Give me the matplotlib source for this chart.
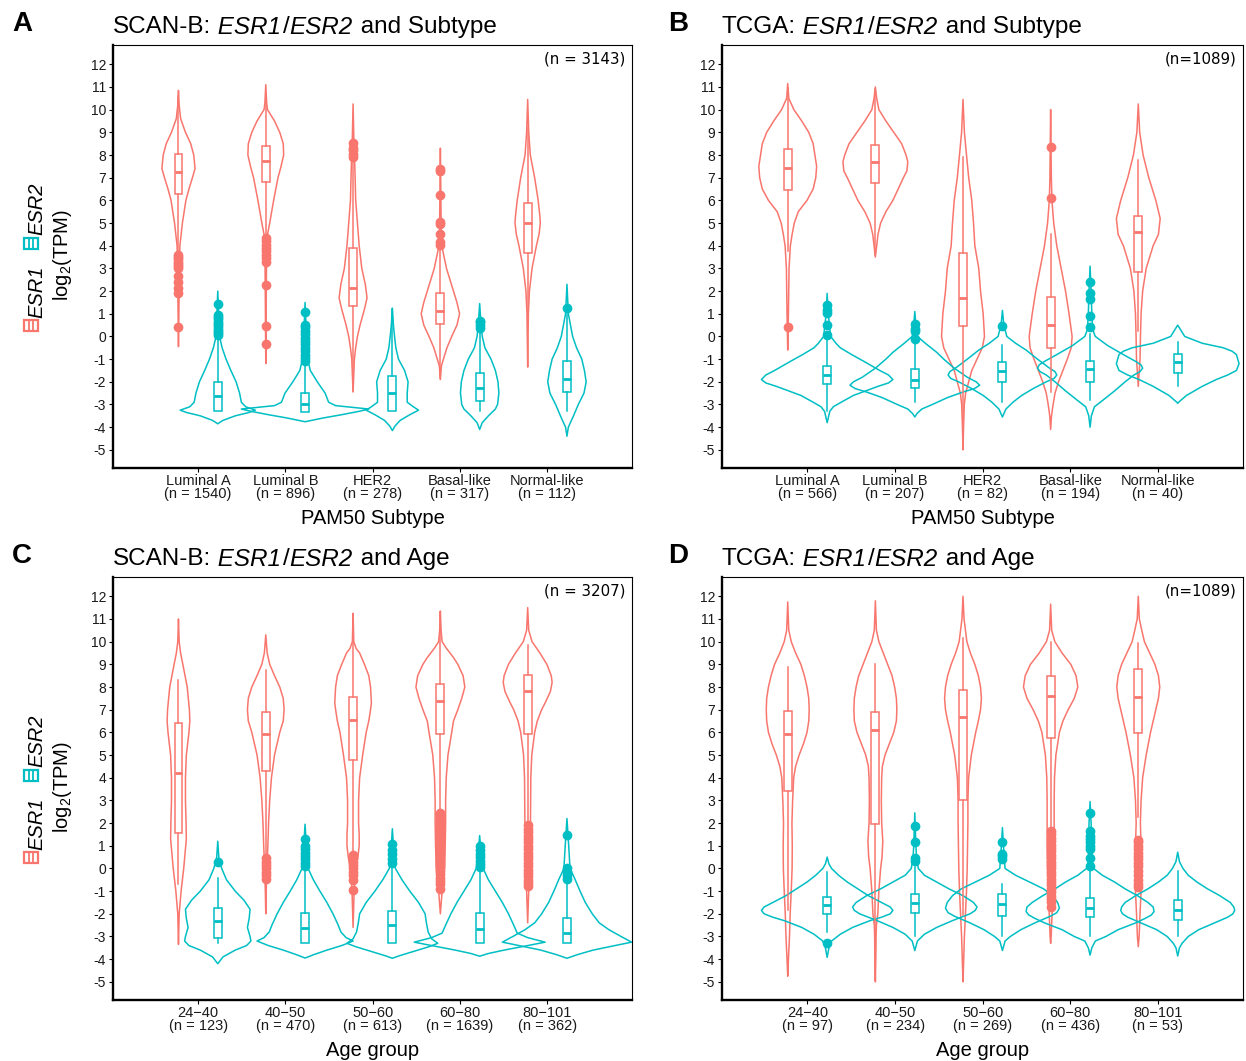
import matplotlib
matplotlib.use("Agg")
import matplotlib.pyplot as plt
from matplotlib.patches import Rectangle

plt.rcParams['font.family'] = ['Liberation Sans', 'DejaVu Sans']
plt.rcParams['mathtext.fontset'] = 'custom'
plt.rcParams['mathtext.rm'] = 'Liberation Sans'
plt.rcParams['mathtext.it'] = 'Liberation Sans:italic'
plt.rcParams['axes.unicode_minus'] = False

ESR1_COLOR = '#F8766D'
ESR2_COLOR = '#00BFC4'

# ---------------- data ----------------
# violins: list of (log2 TPM, half width) knots
# boxes: (whisker low, q1, median, q3, whisker high)

A_GROUPS = ["Luminal A", "Luminal B", "HER2", "Basal-like", "Normal-like"]
A_COUNTS = [1540, 896, 278, 317, 112]
A_TOTAL = "(n = 3143)"
A_ESR1_VIOLINS = [
    [(10.85, 0), (10.2, 0.008), (9.6, 0.025), (9.0, 0.08), (8.5, 0.14), (8.0, 0.175), (7.4, 0.19), (7.0, 0.16), (6.5, 0.12), (6.0, 0.085), (5.0, 0.045), (4.0, 0.016), (3.0, 0.01), (1.5, 0.006), (-0.45, 0)],
    [(11.1, 0), (10.3, 0.01), (10.0, 0.02), (9.5, 0.1), (9.0, 0.16), (8.5, 0.2), (8.0, 0.205), (7.5, 0.175), (7.0, 0.14), (6.0, 0.09), (5.0, 0.045), (4.5, 0.02), (4.0, 0.01), (2.0, 0.006), (-1.2, 0)],
    [(10.25, 0), (8.5, 0.01), (7.5, 0.02), (6.0, 0.03), (5.0, 0.05), (4.0, 0.07), (3.0, 0.1), (2.3, 0.14), (1.7, 0.16), (1.2, 0.13), (0.5, 0.08), (0.0, 0.05), (-0.5, 0.03), (-1.0, 0.015), (-2.45, 0)],
    [(8.3, 0), (6.0, 0.006), (4.5, 0.01), (4.0, 0.016), (3.0, 0.07), (2.5, 0.11), (2.0, 0.15), (1.5, 0.19), (1.0, 0.22), (0.5, 0.19), (0.0, 0.13), (-0.5, 0.075), (-1.0, 0.035), (-1.3, 0.012), (-1.9, 0)],
    [(10.45, 0), (9.0, 0.012), (8.0, 0.03), (7.0, 0.08), (6.0, 0.12), (5.3, 0.14), (5.0, 0.145), (4.5, 0.13), (4.0, 0.1), (3.0, 0.05), (2.0, 0.02), (1.0, 0.008), (-1.35, 0)],
]
A_ESR2_VIOLINS = [
    [(2.0, 0), (1.0, 0.01), (0.0, 0.02), (-0.5, 0.05), (-1.0, 0.095), (-1.5, 0.15), (-2.0, 0.21), (-2.5, 0.25), (-2.9, 0.27), (-3.1, 0.32), (-3.25, 0.43), (-3.35, 0.36), (-3.5, 0.2), (-3.7, 0.06), (-3.85, 0)],
    [(1.5, 0), (0.5, 0.01), (-0.5, 0.02), (-1.0, 0.03), (-1.5, 0.06), (-2.0, 0.14), (-2.5, 0.23), (-2.9, 0.27), (-3.05, 0.35), (-3.2, 0.73), (-3.3, 0.62), (-3.45, 0.42), (-3.6, 0.2), (-3.76, 0)],
    [(1.25, 0), (0.5, 0.012), (0.0, 0.025), (-0.5, 0.04), (-1.0, 0.07), (-1.5, 0.14), (-2.0, 0.18), (-2.5, 0.17), (-2.9, 0.17), (-3.1, 0.24), (-3.25, 0.3), (-3.45, 0.2), (-3.7, 0.09), (-3.95, 0.03), (-4.15, 0)],
    [(1.45, 0), (0.5, 0.016), (0.0, 0.03), (-0.5, 0.06), (-1.0, 0.13), (-1.5, 0.18), (-2.0, 0.21), (-2.5, 0.22), (-3.0, 0.205), (-3.2, 0.18), (-3.5, 0.1), (-3.8, 0.03), (-4.1, 0)],
    [(2.3, 0), (1.0, 0.016), (0.0, 0.065), (-0.5, 0.11), (-1.0, 0.17), (-1.5, 0.2), (-2.0, 0.22), (-2.5, 0.195), (-3.0, 0.13), (-3.5, 0.075), (-4.0, 0.016), (-4.4, 0)],
]
A_ESR1_BOX = [(3.7, 6.27, 7.25, 8.04, 10.6), (4.45, 6.82, 7.74, 8.39, 10.7), (-2.4, 1.35, 2.12, 3.92, 7.77),
              (-1.85, 0.55, 1.13, 1.9, 3.9), (0.4, 3.7, 5.0, 5.9, 9.2)]
A_ESR2_BOX = [(-3.3, -3.3, -2.63, -1.99, -0.05), (-3.32, -3.32, -3.0, -2.48, -1.22), (-3.3, -3.3, -2.48, -1.74, 1.2),
              (-3.3, -2.85, -2.26, -1.6, 0.3), (-3.3, -2.43, -1.89, -1.07, 1.0)]
A_ESR1_OUT = [[3.6, 3.5, 3.4, 3.3, 3.2, 3.1, 3.0, 2.65, 2.4, 2.15, 1.9, 0.43],
              [4.35, 4.2, 4.05, 3.9, 3.75, 3.6, 3.45, 3.3, 2.25, 0.47, -0.35],
              [7.9, 8.05, 8.2, 8.3, 8.55],
              [4.05, 4.15, 4.5, 4.95, 5.05, 6.25, 7.3, 7.4],
              []]
A_ESR2_OUT = [[0.05, 0.15, 0.25, 0.35, 0.45, 0.55, 0.65, 0.75, 0.85, 0.95, 1.45],
              [-1.1, -0.95, -0.8, -0.65, -0.5, -0.35, -0.2, -0.05, 0.1, 0.25, 0.4, 0.5, 1.07],
              [],
              [0.38, 0.5, 0.62, 0.7],
              [1.25]]

B_GROUPS = A_GROUPS
B_COUNTS = [566, 207, 82, 194, 40]
B_TOTAL = "(n=1089)"
B_ESR1_VIOLINS = [
    [(11.15, 0), (10.5, 0.012), (10.0, 0.07), (9.5, 0.16), (9.0, 0.24), (8.5, 0.29), (8.0, 0.31), (7.5, 0.33), (7.0, 0.32), (6.5, 0.29), (6.0, 0.22), (5.5, 0.12), (5.0, 0.075), (4.5, 0.05), (4.0, 0.03), (3.0, 0.015), (1.0, 0.008), (-0.6, 0)],
    [(11.0, 0), (10.5, 0.015), (10.0, 0.04), (9.5, 0.12), (9.0, 0.21), (8.5, 0.3), (8.0, 0.35), (7.7, 0.37), (7.3, 0.36), (7.0, 0.32), (6.5, 0.26), (6.0, 0.2), (5.5, 0.12), (5.0, 0.06), (4.5, 0.03), (4.0, 0.015), (3.5, 0)],
    [(10.45, 0), (9.0, 0.016), (8.0, 0.04), (7.0, 0.065), (6.0, 0.1), (5.0, 0.12), (4.0, 0.135), (3.0, 0.18), (2.0, 0.2), (1.0, 0.23), (0.0, 0.245), (-0.5, 0.22), (-1.0, 0.16), (-1.5, 0.1), (-2.0, 0.065), (-2.5, 0.03), (-3.0, 0.015), (-4.0, 0.006), (-5.0, 0)],
    [(10.0, 0), (7.0, 0.008), (6.0, 0.015), (5.0, 0.035), (4.0, 0.07), (3.0, 0.12), (2.0, 0.17), (1.0, 0.21), (0.0, 0.245), (-0.5, 0.235), (-1.0, 0.19), (-1.5, 0.14), (-2.0, 0.09), (-2.5, 0.05), (-3.0, 0.028), (-3.5, 0.01), (-4.1, 0)],
    [(10.25, 0), (9.0, 0.016), (8.0, 0.055), (7.0, 0.12), (6.0, 0.2), (5.2, 0.25), (4.5, 0.23), (4.0, 0.17), (3.0, 0.09), (2.0, 0.05), (1.0, 0.032), (0.0, 0.025), (-1.0, 0.02), (-2.2, 0)],
]
B_ESR2_VIOLINS = [
    [(1.9, 0), (1.0, 0.012), (0.0, 0.04), (-0.3, 0.1), (-0.5, 0.15), (-0.8, 0.28), (-1.1, 0.42), (-1.5, 0.6), (-1.7, 0.7), (-1.9, 0.75), (-2.05, 0.7), (-2.2, 0.58), (-2.4, 0.44), (-2.6, 0.3), (-2.9, 0.16), (-3.1, 0.07), (-3.3, 0.03), (-3.8, 0)],
    [(1.1, 0), (0.5, 0.012), (0.0, 0.03), (-0.3, 0.12), (-0.7, 0.25), (-1.0, 0.33), (-1.4, 0.45), (-1.8, 0.6), (-2.0, 0.7), (-2.15, 0.74), (-2.3, 0.68), (-2.45, 0.55), (-2.7, 0.37), (-3.0, 0.2), (-3.2, 0.08), (-3.4, 0.025), (-3.55, 0)],
    [(1.15, 0), (0.5, 0.016), (0.0, 0.05), (-0.3, 0.15), (-0.6, 0.27), (-1.0, 0.4), (-1.35, 0.52), (-1.55, 0.6), (-1.7, 0.62), (-1.85, 0.59), (-2.0, 0.5), (-2.3, 0.35), (-2.6, 0.22), (-2.9, 0.12), (-3.2, 0.04), (-3.55, 0)],
    [(3.1, 0), (2.0, 0.012), (1.0, 0.02), (0.3, 0.03), (0.0, 0.06), (-0.4, 0.2), (-0.8, 0.38), (-1.1, 0.52), (-1.25, 0.58), (-1.4, 0.6), (-1.55, 0.57), (-1.7, 0.5), (-2.0, 0.4), (-2.4, 0.28), (-2.8, 0.15), (-3.1, 0.05), (-3.5, 0.015), (-4.0, 0)],
    [(0.5, 0), (0.0, 0.08), (-0.3, 0.28), (-0.5, 0.52), (-0.65, 0.62), (-0.8, 0.67), (-1.2, 0.7), (-1.5, 0.67), (-1.7, 0.57), (-1.9, 0.44), (-2.2, 0.28), (-2.6, 0.1), (-2.9, 0.01), (-2.95, 0)],
]
B_ESR1_BOX = [(3.75, 6.46, 7.42, 8.27, 10.97), (3.6, 6.77, 7.68, 8.45, 10.9), (-4.3, 0.46, 1.71, 3.66, 7.89),
              (-2.43, -0.53, 0.52, 1.75, 4.51), (0.25, 2.82, 4.6, 5.32, 7.8)]
B_ESR2_BOX = [(-3.3, -2.1, -1.72, -1.3, 0.0), (-2.9, -2.26, -1.92, -1.45, -0.3), (-2.87, -2.0, -1.52, -1.11, -0.38),
              (-2.8, -2.0, -1.45, -1.08, 0.13), (-2.2, -1.63, -1.14, -0.78, -0.23)]
B_ESR1_OUT = [[0.4], [], [], [6.1, 8.37], []]
B_ESR2_OUT = [[0.08, 0.5, 1.05, 1.15, 1.4], [-0.13, 0.25, 0.33, 0.56], [0.45],
              [0.42, 0.9, 1.65, 1.9, 2.4], []]

C_GROUPS = ["24\u221240", "40\u221250", "50\u221260", "60\u221280", "80\u2212101"]
C_COUNTS = [123, 470, 613, 1639, 362]
C_TOTAL = "(n = 3207)"
C_ESR1_VIOLINS = [
    [(11.0, 0), (10.0, 0.008), (9.5, 0.024), (9.0, 0.05), (8.0, 0.1), (7.0, 0.125), (6.5, 0.13), (6.0, 0.12), (5.0, 0.09), (4.0, 0.08), (3.0, 0.08), (2.0, 0.087), (1.3, 0.09), (1.0, 0.083), (0.0, 0.06), (-1.0, 0.03), (-2.0, 0.008), (-3.35, 0)],
    [(10.3, 0), (9.5, 0.016), (9.0, 0.045), (8.5, 0.1), (8.0, 0.16), (7.5, 0.2), (7.0, 0.21), (6.5, 0.2), (6.0, 0.16), (5.0, 0.1), (4.0, 0.065), (3.0, 0.045), (2.0, 0.032), (1.0, 0.024), (0.0, 0.012), (-1.0, 0.005), (-2.0, 0)],
    [(11.25, 0), (10.0, 0.008), (9.7, 0.035), (9.5, 0.075), (9.0, 0.13), (8.5, 0.18), (8.0, 0.2), (7.3, 0.21), (7.0, 0.2), (6.5, 0.18), (6.0, 0.15), (5.0, 0.11), (4.0, 0.075), (3.0, 0.063), (2.0, 0.063), (1.5, 0.07), (1.0, 0.07), (0.5, 0.055), (0.0, 0.032), (-1.0, 0.012), (-2.6, 0)],
    [(11.35, 0), (10.5, 0.008), (10.0, 0.02), (9.7, 0.07), (9.3, 0.15), (9.0, 0.2), (8.5, 0.26), (8.0, 0.28), (7.5, 0.245), (7.0, 0.2), (6.5, 0.15), (6.0, 0.13), (5.0, 0.087), (4.0, 0.067), (3.0, 0.06), (2.0, 0.06), (1.0, 0.055), (0.0, 0.048), (-0.5, 0.035), (-1.0, 0.02), (-2.0, 0)],
    [(11.5, 0), (10.5, 0.012), (10.0, 0.05), (9.5, 0.14), (9.0, 0.22), (8.5, 0.27), (8.2, 0.28), (7.8, 0.26), (7.3, 0.2), (7.0, 0.16), (6.5, 0.11), (6.0, 0.08), (5.0, 0.047), (4.0, 0.036), (2.0, 0.032), (1.0, 0.032), (0.0, 0.024), (-1.0, 0.012), (-2.4, 0)],
]
C_ESR2_VIOLINS = [
    [(1.2, 0), (0.5, 0.012), (0.0, 0.045), (-0.5, 0.1), (-1.0, 0.2), (-1.4, 0.3), (-1.8, 0.37), (-2.2, 0.36), (-2.6, 0.34), (-3.0, 0.37), (-3.2, 0.38), (-3.4, 0.33), (-3.6, 0.2), (-3.9, 0.06), (-4.2, 0)],
    [(1.95, 0), (1.0, 0.015), (0.0, 0.035), (-0.5, 0.095), (-1.0, 0.17), (-1.5, 0.25), (-2.0, 0.32), (-2.5, 0.38), (-2.8, 0.41), (-3.05, 0.47), (-3.2, 0.55), (-3.4, 0.42), (-3.6, 0.25), (-3.8, 0.1), (-3.95, 0)],
    [(1.75, 0), (1.0, 0.012), (0.0, 0.035), (-0.5, 0.11), (-1.0, 0.2), (-1.5, 0.3), (-2.0, 0.375), (-2.4, 0.39), (-2.8, 0.41), (-3.1, 0.45), (-3.3, 0.52), (-3.45, 0.42), (-3.65, 0.25), (-3.85, 0.08), (-3.96, 0)],
    [(1.45, 0), (0.5, 0.02), (0.0, 0.04), (-0.5, 0.1), (-1.0, 0.18), (-1.5, 0.26), (-2.0, 0.33), (-2.5, 0.39), (-2.85, 0.43), (-3.05, 0.55), (-3.25, 0.75), (-3.4, 0.55), (-3.6, 0.28), (-3.75, 0.1), (-3.87, 0)],
    [(2.2, 0), (1.0, 0.02), (0.0, 0.035), (-0.5, 0.095), (-1.0, 0.15), (-1.5, 0.21), (-2.0, 0.29), (-2.4, 0.37), (-2.7, 0.48), (-3.0, 0.62), (-3.25, 0.74), (-3.4, 0.55), (-3.6, 0.3), (-3.8, 0.12), (-3.96, 0)],
]
C_ESR1_BOX = [(-0.69, 1.55, 4.22, 6.43, 8.33), (0.51, 4.3, 5.94, 6.89, 8.74), (0.66, 4.78, 6.55, 7.57, 11.2),
              (2.55, 5.91, 7.37, 8.15, 11.3), (1.95, 5.92, 7.81, 8.55, 9.87)]
C_ESR2_BOX = [(-3.27, -3.05, -2.3, -1.76, -0.41), (-3.27, -3.27, -2.64, -1.95, 0.0), (-3.3, -3.3, -2.51, -1.88, 0.15),
              (-3.3, -3.3, -2.68, -1.97, 0.0), (-3.3, -3.3, -2.83, -2.17, -0.55)]
C_ESR1_OUT = [[],
              [0.45, 0.3, 0.15, 0.0, -0.15, -0.3, -0.45],
              [0.6, 0.45, 0.3, 0.15, 0.0, -0.15, -0.3, -0.5, -0.95],
              [2.45, 2.3, 2.15, 2.0, 1.85, 1.7, 1.55, 1.4, 1.25, 1.1, 0.95, 0.8, 0.65, 0.5, 0.35, 0.2, 0.05,
               -0.1, -0.25, -0.4, -0.55, -0.7, -0.9],
              [1.9, 1.75, 1.6, 1.45, 1.3, 1.15, 1.0, 0.85, 0.7, 0.55, 0.4, 0.25, 0.1, -0.05, -0.2, -0.35, -0.5,
               -0.65, -0.77]]
C_ESR2_OUT = [[0.29],
              [0.1, 0.25, 0.4, 0.55, 0.7, 0.85, 1.0, 1.28],
              [0.25, 0.4, 0.65, 0.8, 1.07],
              [0.05, 0.2, 0.35, 0.5, 0.65, 0.8, 0.97],
              [-0.45, -0.3, -0.15, 0.0, 1.47]]

D_GROUPS = C_GROUPS
D_COUNTS = [97, 234, 269, 436, 53]
D_TOTAL = "(n=1089)"
D_ESR1_VIOLINS = [
    [(11.75, 0), (10.5, 0.012), (10.0, 0.04), (9.5, 0.09), (9.0, 0.15), (8.5, 0.19), (8.0, 0.22), (7.5, 0.24), (7.0, 0.245), (6.5, 0.24), (6.0, 0.22), (5.5, 0.18), (5.0, 0.13), (4.5, 0.09), (4.0, 0.068), (3.0, 0.056), (2.0, 0.048), (1.0, 0.052), (0.0, 0.05), (-1.0, 0.04), (-2.0, 0.028), (-3.0, 0.02), (-4.0, 0.008), (-4.75, 0)],
    [(11.8, 0), (10.5, 0.012), (10.0, 0.04), (9.5, 0.09), (9.0, 0.14), (8.5, 0.19), (8.0, 0.22), (7.5, 0.24), (7.0, 0.245), (6.5, 0.24), (6.0, 0.21), (5.5, 0.16), (5.0, 0.11), (4.5, 0.08), (4.0, 0.072), (3.0, 0.068), (2.0, 0.072), (1.2, 0.085), (0.5, 0.076), (0.0, 0.06), (-1.0, 0.04), (-2.0, 0.028), (-2.5, 0.012), (-3.0, 0.008), (-4.0, 0.005), (-5.0, 0)],
    [(12.0, 0), (11.0, 0.012), (10.0, 0.044), (9.5, 0.084), (9.0, 0.135), (8.5, 0.175), (8.0, 0.2), (7.5, 0.21), (7.0, 0.2), (6.5, 0.175), (6.0, 0.145), (5.0, 0.095), (4.0, 0.064), (3.0, 0.056), (2.0, 0.056), (1.0, 0.052), (0.0, 0.048), (-1.0, 0.04), (-2.0, 0.028), (-3.0, 0.016), (-4.0, 0.008), (-5.0, 0)],
    [(11.65, 0), (10.5, 0.012), (10.0, 0.048), (9.5, 0.13), (9.0, 0.23), (8.5, 0.29), (8.0, 0.31), (7.5, 0.27), (7.0, 0.2), (6.5, 0.14), (6.0, 0.1), (5.0, 0.06), (4.0, 0.044), (3.0, 0.04), (2.0, 0.04), (1.0, 0.04), (0.0, 0.036), (-1.0, 0.028), (-2.0, 0.016), (-3.0, 0.006), (-3.3, 0)],
    [(12.0, 0), (11.0, 0.012), (10.5, 0.04), (10.0, 0.07), (9.5, 0.13), (9.0, 0.19), (8.5, 0.23), (8.0, 0.245), (7.5, 0.23), (7.0, 0.2), (6.5, 0.17), (6.0, 0.14), (5.0, 0.09), (4.0, 0.05), (3.0, 0.032), (2.0, 0.024), (1.0, 0.032), (0.0, 0.04), (-1.0, 0.032), (-2.0, 0.02), (-3.0, 0.01), (-3.45, 0)],
]
D_ESR2_VIOLINS = [
    [(0.5, 0), (0.2, 0.02), (0.0, 0.05), (-0.3, 0.13), (-0.6, 0.23), (-0.9, 0.35), (-1.2, 0.47), (-1.5, 0.62), (-1.7, 0.72), (-1.85, 0.75), (-2.0, 0.72), (-2.15, 0.62), (-2.3, 0.49), (-2.6, 0.29), (-2.9, 0.15), (-3.2, 0.05), (-3.5, 0.02), (-3.92, 0)],
    [(2.45, 0), (1.0, 0.012), (0.5, 0.02), (0.0, 0.04), (-0.3, 0.11), (-0.6, 0.25), (-0.9, 0.39), (-1.2, 0.55), (-1.5, 0.67), (-1.7, 0.71), (-1.85, 0.69), (-2.0, 0.63), (-2.3, 0.43), (-2.6, 0.25), (-2.9, 0.11), (-3.2, 0.03), (-3.62, 0)],
    [(1.8, 0), (1.0, 0.012), (0.0, 0.03), (-0.3, 0.15), (-0.6, 0.31), (-0.9, 0.47), (-1.2, 0.57), (-1.5, 0.63), (-1.75, 0.65), (-1.95, 0.62), (-2.1, 0.55), (-2.4, 0.37), (-2.7, 0.21), (-3.0, 0.09), (-3.2, 0.03), (-3.62, 0)],
    [(2.95, 0), (2.0, 0.012), (1.0, 0.016), (0.3, 0.02), (0.0, 0.04), (-0.3, 0.14), (-0.6, 0.28), (-0.9, 0.4), (-1.2, 0.54), (-1.5, 0.66), (-1.7, 0.72), (-1.9, 0.73), (-2.05, 0.7), (-2.2, 0.63), (-2.4, 0.52), (-2.7, 0.32), (-3.0, 0.18), (-3.2, 0.06), (-3.5, 0.02), (-3.82, 0)],
    [(0.72, 0), (0.3, 0.02), (0.0, 0.06), (-0.3, 0.12), (-0.6, 0.22), (-0.9, 0.34), (-1.2, 0.48), (-1.5, 0.6), (-1.7, 0.64), (-1.85, 0.65), (-2.0, 0.63), (-2.15, 0.57), (-2.4, 0.42), (-2.7, 0.24), (-3.0, 0.12), (-3.3, 0.05), (-3.5, 0.02), (-3.86, 0)],
]
D_ESR1_BOX = [(-1.83, 3.42, 5.92, 6.93, 8.89), (-4.9, 1.96, 6.1, 6.88, 9.0), (-2.05, 3.01, 6.68, 7.86, 10.18),
              (1.7, 5.77, 7.6, 8.48, 10.0), (2.25, 5.95, 7.54, 8.78, 9.96)]
D_ESR2_BOX = [(-2.8, -2.0, -1.61, -1.24, -0.16), (-3.0, -1.97, -1.54, -1.14, 0.06), (-2.98, -2.1, -1.58, -1.14, -0.69),
              (-2.98, -2.16, -1.76, -1.29, 0.0), (-3.0, -2.27, -1.83, -1.39, -0.11)]
D_ESR1_OUT = [[], [], [],
              [1.65, 1.5, 1.35, 1.2, 1.05, 0.9, 0.75, 0.6, 0.45, 0.3, 0.15, 0.0, -0.15, -0.3, -0.45, -0.6, -0.75,
               -0.9, -1.05, -1.2, -1.35, -1.5, -1.69],
              [1.25, 1.15, 1.0, 0.85, 0.7, 0.55, 0.4, 0.25, 0.1, -0.1, -0.3, -0.5, -0.7, -0.8]]
D_ESR2_OUT = [[-3.3], [0.35, 0.47, 1.18, 1.88], [0.4, 0.55, 0.65, 1.15],
              [0.1, 0.45, 0.85, 1.0, 1.15, 1.3, 1.45, 1.65, 2.45], []]

# ---------------- layout (pixels of the 1246x1061 picture) ----------------
W, H = 1246, 1061
DODGE = 0.225
BOX_W = 0.09


def px_axes(fig, left, top, right, bottom):
    return fig.add_axes([left / W, 1 - bottom / H, (right - left) / W, (bottom - top) / H])


def draw_gene(ax, violins, boxes, outliers, offset, color):
    pos = [i + 1 + offset for i in range(len(violins))]
    stats, widths = [], []
    for knots in violins:
        ys = [k[0] for k in knots]
        ws = [k[1] for k in knots]
        stats.append(dict(coords=ys, vals=ws, mean=0, median=0, min=min(ys), max=max(ys)))
        widths.append(2 * max(ws))
    parts = ax.violin(stats, positions=pos, widths=widths, showmeans=False,
                      showextrema=False, showmedians=False)
    for b in parts['bodies']:
        b.set_facecolor('none')
        b.set_edgecolor(color)
        b.set_linewidth(1.1)
        b.set_alpha(1)
        b.set_zorder(2)
    return pos, [dict(whislo=b[0], q1=b[1], med=b[2], q3=b[3], whishi=b[4], fliers=o)
                 for b, o in zip(boxes, outliers)]


def draw_boxes(ax, pos, bstats, color):
    ax.bxp(bstats, positions=pos, widths=BOX_W, patch_artist=True, showcaps=False,
           manage_ticks=False, zorder=3,
           boxprops=dict(facecolor='white', edgecolor=color, linewidth=1.1),
           whiskerprops=dict(color=color, linewidth=1.1),
           medianprops=dict(color=color, linewidth=2.0),
           flierprops=dict(marker='o', markerfacecolor=color, markeredgecolor=color,
                           markersize=6, linestyle='none'))


def panel(ax, groups, counts, total, e1v, e2v, e1b, e2b, e1o, e2o, xlabel):
    p1, s1 = draw_gene(ax, e1v, e1b, e1o, -DODGE, ESR1_COLOR)
    p2, s2 = draw_gene(ax, e2v, e2b, e2o, DODGE, ESR2_COLOR)
    draw_boxes(ax, p1, s1, ESR1_COLOR)
    draw_boxes(ax, p2, s2, ESR2_COLOR)
    ax.set_xlim(0.025, 5.97)
    ax.set_ylim(-5.8, 12.85)
    ax.set_yticks(range(-5, 13))
    ax.set_xticks(range(1, len(groups) + 1))
    ax.set_xticklabels([f"{g}\n(n = {n})" for g, n in zip(groups, counts)],
                       linespacing=0.9, fontsize=10.5, color='#1a1a1a')
    ax.tick_params(axis='y', labelsize=10, labelcolor='#1a1a1a', length=3, pad=2, width=0.8)
    ax.tick_params(axis='x', length=3, pad=1.5, width=0.8)
    ax.set_xlabel(xlabel, fontsize=14.5, labelpad=6)
    for side in ['left', 'bottom']:
        ax.spines[side].set_linewidth(1.7)
    for side in ['top', 'right']:
        ax.spines[side].set_linewidth(0.8)
    ax.text(0.988, 0.967, total, transform=ax.transAxes, ha='right', va='center',
            fontsize=10.8, family='DejaVu Sans')


fig = plt.figure(figsize=(W / 100, H / 100), dpi=100)
renderer = fig.canvas.get_renderer()

# overlay in picture pixels for panel letters, titles and the rotated legend
lay = fig.add_axes([0, 0, 1, 1])
lay.set_xlim(0, W)
lay.set_ylim(H, 0)
lay.axis('off')

axA = px_axes(fig, 113, 45, 632, 468)
axB = px_axes(fig, 722, 45, 1243, 468)
axC = px_axes(fig, 113, 577, 632, 1000)
axD = px_axes(fig, 722, 577, 1243, 1000)

panel(axA, A_GROUPS, A_COUNTS, A_TOTAL, A_ESR1_VIOLINS, A_ESR2_VIOLINS, A_ESR1_BOX, A_ESR2_BOX,
      A_ESR1_OUT, A_ESR2_OUT, "PAM50 Subtype")
panel(axB, B_GROUPS, B_COUNTS, B_TOTAL, B_ESR1_VIOLINS, B_ESR2_VIOLINS, B_ESR1_BOX, B_ESR2_BOX,
      B_ESR1_OUT, B_ESR2_OUT, "PAM50 Subtype")
panel(axC, C_GROUPS, C_COUNTS, C_TOTAL, C_ESR1_VIOLINS, C_ESR2_VIOLINS, C_ESR1_BOX, C_ESR2_BOX,
      C_ESR1_OUT, C_ESR2_OUT, "Age group")
panel(axD, D_GROUPS, D_COUNTS, D_TOTAL, D_ESR1_VIOLINS, D_ESR2_VIOLINS, D_ESR1_BOX, D_ESR2_BOX,
      D_ESR1_OUT, D_ESR2_OUT, "Age group")


def title_line(x, y, pieces):
    # consecutive pieces, italic where flagged; leading spaces carry the gaps
    for text, italic in pieces:
        t = lay.text(x, y, text, fontsize=17.5, style='italic' if italic else 'normal',
                     ha='left', va='center')
        x += t.get_window_extent(renderer).width + (1.5 if italic else 0)


titles = [("A", 22, 113, 27, "SCAN-B:", "Subtype"),
          ("B", 678, 722, 27, "TCGA:", "Subtype"),
          ("C", 22, 113, 559, "SCAN-B:", "Age"),
          ("D", 678, 722, 559, "TCGA:", "Age")]
for letter, lx, tx, ty, cohort, what in titles:
    lay.text(lx, ty - 3, letter, fontsize=20, fontweight='bold', ha='center', va='center')
    title_line(tx, ty, [(cohort, False), (" ESR1", True), ("/", False), ("ESR2", True),
                        (" and " + what, False)])

# y label and rotated legend for the left panels
for dy in [0, 532]:
    lay.text(62, 255 + dy, r"log$_{\mathrm{2}}$(TPM)", rotation=90, fontsize=14.5,
             ha='center', va='center')
    for color, label, ky, ty in [(ESR1_COLOR, "ESR1", 320, 292), (ESR2_COLOR, "ESR2", 238, 209)]:
        lay.add_patch(Rectangle((24, ky + dy), 14, 11, facecolor='white', edgecolor=color, lw=1.6))
        lay.plot([29, 29], [ky + dy, ky + 11 + dy], color=color, lw=1.3)
        lay.plot([33, 33], [ky + dy, ky + 11 + dy], color=color, lw=1.3)
        lay.text(37, ty + dy, label, rotation=90, fontsize=14.5, style='italic',
                 ha='center', va='center')

fig.savefig("out.png", dpi=100)
